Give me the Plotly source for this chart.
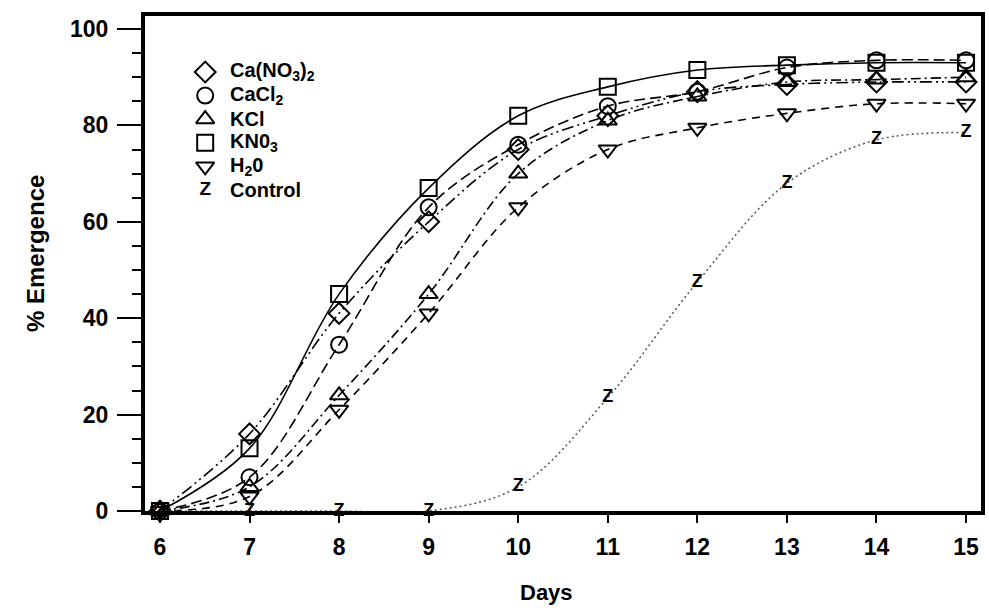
import plotly.graph_objects as go

# Emergence (%) by day after sowing for each priming treatment
days = [6, 7, 8, 9, 10, 11, 12, 13, 14, 15]
ca_no3 = [0, 16, 41, 60, 75, 82, 87, 88.5, 89, 89]
cacl2 = [0, 7, 34.5, 63, 76, 84, 87, 92, 93.5, 93.5]
kcl = [0, 5, 24, 45, 70, 81, 86, 89, 89.5, 90]
kno3 = [0, 13, 45, 67, 82, 88, 91.5, 92.5, 93, 93]
h2o = [0, 3, 21, 41, 63, 75, 79.5, 82.5, 84.5, 84.5]
control = [0, 0, 0, 0, 5, 23.5, 47.5, 68, 77, 78.5]

y_ticks = [0, 20, 40, 60, 80, 100]

FONT = "Liberation Sans"

series = [
    ("Ca(NO<sub>3</sub>)<sub>2</sub>", ca_no3, "diamond-open", "12px,4px,2px,4px,2px,4px"),
    ("CaCl<sub>2</sub>", cacl2, "circle-open", "11px,5px"),
    ("KCl", kcl, "triangle-up-open", "10px,4px,2px,4px"),
    ("KN0<sub>3</sub>", kno3, "square-open", "solid"),
    ("H<sub>2</sub>0", h2o, "triangle-down-open", "8px,6px"),
]

fig = go.Figure()

for name, vals, sym, dash in series:
    fig.add_trace(go.Scatter(
        x=days, y=vals, mode="lines+markers", name=name,
        line=dict(color="black", width=1.6, dash=dash, shape="spline", smoothing=1.0),
        marker=dict(symbol=sym, size=16, color="black", line=dict(width=2, color="black")),
        cliponaxis=False, showlegend=False,
    ))

fig.add_trace(go.Scatter(
    x=days, y=control, mode="lines+text", name="Control",
    text=["Z"] * len(days), textposition="middle center",
    textfont=dict(family=FONT, size=18, color="black", weight="bold"),
    line=dict(color="#555555", width=1.5, dash="2px,3px", shape="spline", smoothing=1.0),
    cliponaxis=False, showlegend=False,
))

# Hand-built legend drawn on a hidden 0..1 overlay axis pair
row_top = 0.887
row_step = 0.0477
key_x = 0.072
label_x = 0.099
n_rows = len(series) + 1
row_y = [row_top - i * row_step for i in range(n_rows)]

fig.add_trace(go.Scatter(
    x=[key_x] * len(series), y=row_y[:len(series)], mode="markers",
    marker=dict(symbol=[s[2] for s in series], size=16, color="black",
                line=dict(width=2, color="black")),
    xaxis="x2", yaxis="y2", cliponaxis=False, showlegend=False, hoverinfo="skip",
))
fig.add_trace(go.Scatter(
    x=[key_x], y=[row_y[-1]], mode="text", text=["Z"], textposition="middle center",
    textfont=dict(family=FONT, size=19, color="black", weight="bold"),
    xaxis="x2", yaxis="y2", cliponaxis=False, showlegend=False, hoverinfo="skip",
))

labels = [s[0] for s in series] + ["Control"]
for yy, label in zip(row_y, labels):
    fig.add_annotation(
        x=label_x, y=yy, xref="paper", yref="paper", text=label, showarrow=False,
        xanchor="left", yanchor="middle",
        font=dict(family=FONT, size=20, color="black", weight="bold"),
    )

fig.add_annotation(
    x=-0.131, y=0.52, xref="paper", yref="paper", text="% Emergence",
    textangle=-90, showarrow=False, xanchor="center", yanchor="middle",
    font=dict(family=FONT, size=24, color="black", weight="bold"),
)
fig.add_annotation(
    x=0.48, y=-0.164, xref="paper", yref="paper", text="Days",
    showarrow=False, xanchor="center", yanchor="middle",
    font=dict(family=FONT, size=22, color="black", weight="bold"),
)

fig.update_layout(
    width=989, height=611,
    margin=dict(l=145, r=4, t=16, b=100),
    paper_bgcolor="white", plot_bgcolor="white",
    showlegend=False,
    xaxis=dict(
        range=[5.833, 15.167], tickvals=days, ticktext=[str(d) for d in days],
        showline=True, linewidth=4, linecolor="black", mirror=True,
        ticks="outside", ticklen=8, tickwidth=2, tickcolor="black",
        showgrid=False, zeroline=False, ticklabelstandoff=4,
        tickfont=dict(family=FONT, size=23, color="black", weight="bold"),
    ),
    yaxis=dict(
        range=[0, 102.7], tickvals=y_ticks, ticktext=[str(v) for v in y_ticks],
        showline=True, linewidth=4, linecolor="black", mirror=True,
        ticks="outside", ticklen=24, tickwidth=2, tickcolor="black",
        minor=dict(dtick=5, ticks="outside", ticklen=9, tickwidth=2,
                   tickcolor="black", showgrid=False),
        showgrid=False, zeroline=False, ticklabelstandoff=4,
        tickfont=dict(family=FONT, size=23, color="black", weight="bold"),
    ),
    xaxis2=dict(overlaying="x", range=[0, 1], visible=False),
    yaxis2=dict(overlaying="y", range=[0, 1], visible=False),
)

fig.write_html("out.html")
